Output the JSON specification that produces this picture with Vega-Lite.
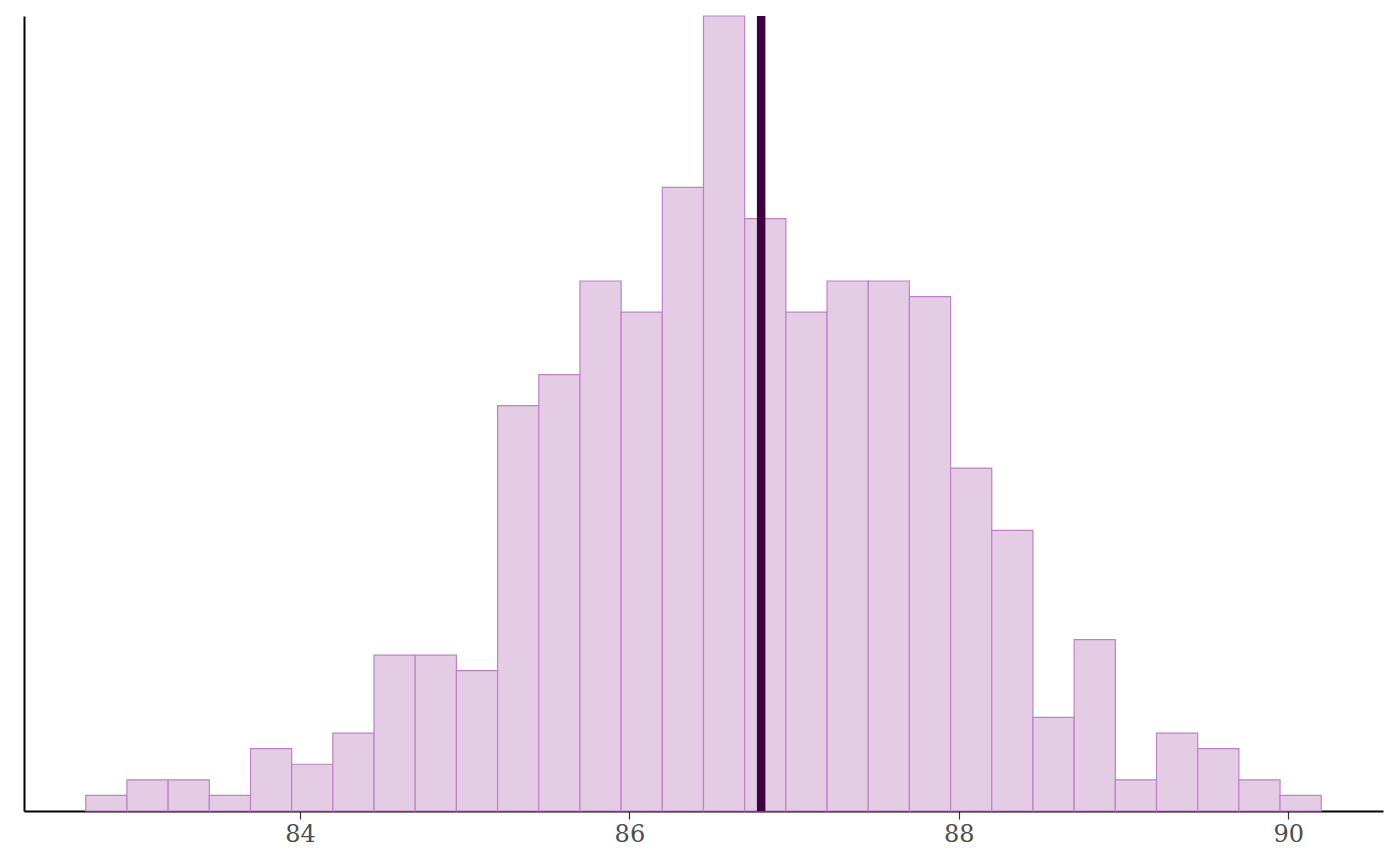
{
  "$schema": "https://vega.github.io/schema/vega-lite/v6.json",
  "description": "Histogram of 500 values with the mean marked.",
  "width": 1359,
  "height": 795,
  "autosize": {"type": "none"},
  "padding": {"left": 24, "top": 16, "right": 17, "bottom": 55},
  "background": "white",
  "config": {"view": {"stroke": null}},
  "layer": [
    {
      "data": {
        "values": [
          {"bin_start": 82.70, "bin_end": 82.95, "count": 1},
          {"bin_start": 82.95, "bin_end": 83.20, "count": 2},
          {"bin_start": 83.20, "bin_end": 83.45, "count": 2},
          {"bin_start": 83.45, "bin_end": 83.70, "count": 1},
          {"bin_start": 83.70, "bin_end": 83.95, "count": 4},
          {"bin_start": 83.95, "bin_end": 84.20, "count": 3},
          {"bin_start": 84.20, "bin_end": 84.45, "count": 5},
          {"bin_start": 84.45, "bin_end": 84.70, "count": 10},
          {"bin_start": 84.70, "bin_end": 84.95, "count": 10},
          {"bin_start": 84.95, "bin_end": 85.20, "count": 9},
          {"bin_start": 85.20, "bin_end": 85.45, "count": 26},
          {"bin_start": 85.45, "bin_end": 85.70, "count": 28},
          {"bin_start": 85.70, "bin_end": 85.95, "count": 34},
          {"bin_start": 85.95, "bin_end": 86.20, "count": 32},
          {"bin_start": 86.20, "bin_end": 86.45, "count": 40},
          {"bin_start": 86.45, "bin_end": 86.70, "count": 51},
          {"bin_start": 86.70, "bin_end": 86.95, "count": 38},
          {"bin_start": 86.95, "bin_end": 87.20, "count": 32},
          {"bin_start": 87.20, "bin_end": 87.45, "count": 34},
          {"bin_start": 87.45, "bin_end": 87.70, "count": 34},
          {"bin_start": 87.70, "bin_end": 87.95, "count": 33},
          {"bin_start": 87.95, "bin_end": 88.20, "count": 22},
          {"bin_start": 88.20, "bin_end": 88.45, "count": 18},
          {"bin_start": 88.45, "bin_end": 88.70, "count": 6},
          {"bin_start": 88.70, "bin_end": 88.95, "count": 11},
          {"bin_start": 88.95, "bin_end": 89.20, "count": 2},
          {"bin_start": 89.20, "bin_end": 89.45, "count": 5},
          {"bin_start": 89.45, "bin_end": 89.70, "count": 4},
          {"bin_start": 89.70, "bin_end": 89.95, "count": 2},
          {"bin_start": 89.95, "bin_end": 90.20, "count": 1}
        ]
      },
      "mark": {"type": "rect", "fill": "#E5CCE5", "stroke": "#C080C8", "strokeWidth": 1.2},
      "encoding": {
        "x": {
          "field": "bin_start",
          "type": "quantitative",
          "scale": {"domain": [82.325, 90.575], "nice": false, "zero": false},
          "axis": {
            "title": null,
            "values": [84, 86, 88, 90],
            "format": "d",
            "grid": false,
            "domainColor": "black",
            "domainWidth": 2,
            "tickColor": "#333333",
            "tickSize": 8,
            "tickWidth": 1.2,
            "labelFont": "DejaVu Serif",
            "labelFontSize": 24,
            "labelColor": "#4D4D4D",
            "labelPadding": 3
          }
        },
        "x2": {"field": "bin_end"},
        "y": {
          "field": "count",
          "type": "quantitative",
          "scale": {"domain": [0, 51], "nice": false},
          "axis": {
            "title": null,
            "labels": false,
            "ticks": false,
            "grid": false,
            "domainColor": "black",
            "domainWidth": 2
          }
        },
        "y2": {"datum": 0}
      }
    },
    {
      "data": {"values": [{"mean": 86.8}]},
      "mark": {"type": "rule", "color": "#3F003F", "strokeWidth": 8.5},
      "encoding": {
        "x": {"field": "mean", "type": "quantitative"}
      }
    }
  ]
}
